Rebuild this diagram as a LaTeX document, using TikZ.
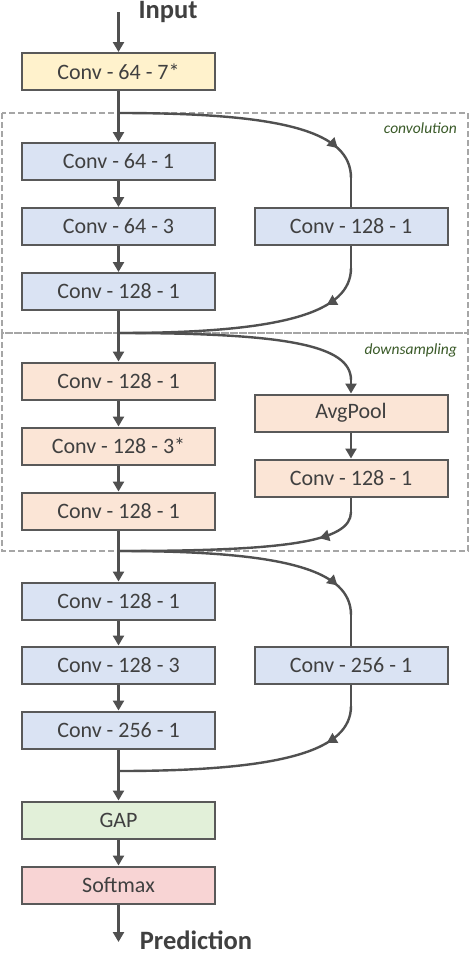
\documentclass[tikz,border=0pt]{standalone}
\usepackage{fontspec}
\setmainfont{Carlito}
\usetikzlibrary{arrows.meta,decorations.markings}
\definecolor{cyel}{HTML}{FFF2CC}
\definecolor{cblue}{HTML}{DAE3F3}
\definecolor{corg}{HTML}{FBE5D6}
\definecolor{cgrn}{HTML}{E2F0D9}
\definecolor{cred}{HTML}{F8D4D4}
\definecolor{cbord}{HTML}{595959}
\definecolor{carr}{HTML}{505050}
\definecolor{ctxt}{HTML}{404040}
\definecolor{cdash}{HTML}{A6A6A6}
\definecolor{clab}{HTML}{3A5A28}
\tikzset{
  blk/.style={draw=cbord, line width=2pt, minimum width=193pt, minimum height=37pt, inner sep=0pt,
    text=ctxt, font=\fontsize{22}{26}\selectfont},
  conn/.style={draw=carr, line width=2.4pt, -{Triangle[length=10pt,width=11pt]}},
  line/.style={draw=carr, line width=2.4pt},
  midarr/.style={postaction={decorate}, decoration={markings, mark=at position #1 with {\arrow{Triangle[length=10pt,width=11pt]}}}},
  grp/.style={draw=cdash, line width=1.5pt, dash pattern=on 6pt off 3pt},
  lab/.style={text=clab, font=\fontsize{15.5}{18}\selectfont\itshape, inner sep=0pt},
  ttl/.style={text=ctxt, font=\fontsize{26.5}{30}\selectfont\bfseries, inner sep=0pt}
}
\begin{document}
\begin{tikzpicture}[x=1pt,y=-1pt]
\useasboundingbox[fill=white] (0,0) rectangle (470,956);
% groups
\draw[grp] (2,113) rectangle (468,333);
\draw[grp] (2,333) rectangle (468,551);
\node[lab, anchor=base east] (lconv) at (457,133) {convolution};
\node[lab, anchor=base east] (ldown) at (457,354) {downsampling};
% nodes
\node[blk, fill=cyel] (c0) at (118.5,71.5) {Conv - 64 - 7*};
\node[blk, fill=cblue] (c1) at (118.5,161.5) {Conv - 64 - 1};
\node[blk, fill=cblue] (c2) at (118.5,226.5) {Conv - 64 - 3};
\node[blk, fill=cblue] (c3) at (118.5,291.5) {Conv - 128 - 1};
\node[blk, fill=cblue] (r1) at (351,226.5) {Conv - 128 - 1};
\node[blk, fill=corg] (c4) at (118.5,381) {Conv - 128 - 1};
\node[blk, fill=corg] (c5) at (118.5,446) {Conv - 128 - 3*};
\node[blk, fill=corg] (c6) at (118.5,511) {Conv - 128 - 1};
\node[blk, fill=corg] (a2) at (351,413) {AvgPool};
\node[blk, fill=corg] (r2) at (351,478) {Conv - 128 - 1};
\node[blk, fill=cblue] (c7) at (118.5,601) {Conv - 128 - 1};
\node[blk, fill=cblue] (c8) at (118.5,665) {Conv - 128 - 3};
\node[blk, fill=cblue] (c9) at (118.5,730) {Conv - 256 - 1};
\node[blk, fill=cblue] (r3) at (351,665) {Conv - 256 - 1};
\node[blk, fill=cgrn] (gap) at (118.5,820) {GAP};
\node[blk, fill=cred] (sm) at (118.5,885) {Softmax};
\node[ttl, anchor=base] (tin) at (168,18.5) {Input};
\node[ttl, anchor=base] (tout) at (196,949) {Prediction};
% coordinates
\coordinate (in) at (118.5,12);
\coordinate (out) at (118.5,942);
\coordinate (j1) at (118.5,113);
\coordinate (j2) at (118.5,333);
\coordinate (j3) at (118.5,551);
\coordinate (j4) at (118.5,771);
\coordinate (b1) at (351,178);
\coordinate (e1) at (351,268);
\coordinate (b2) at (351,380);
\coordinate (e2) at (351,512);
\coordinate (b3) at (351,615);
\coordinate (e3) at (351,706);
% main column
\draw[conn] (in) -- (c0);
\draw[conn] (c0) -- (c1);
\draw[conn] (c1) -- (c2);
\draw[conn] (c2) -- (c3);
\draw[conn] (c3) -- (c4);
\draw[conn] (c4) -- (c5);
\draw[conn] (c5) -- (c6);
\draw[conn] (c6) -- (c7);
\draw[conn] (c7) -- (c8);
\draw[conn] (c8) -- (c9);
\draw[conn] (c9) -- (gap);
\draw[conn] (gap) -- (sm);
\draw[conn] (sm) -- (out);
% block 1 shortcut
\draw[line, midarr=0.87] (j1) .. controls (285,113) and (351,132) .. (b1);
\draw[line] (b1) -- (r1.north);
\draw[line] (r1.south) -- (e1);
\draw[line, midarr=0.18] (e1) .. controls (351,312) and (285,333) .. (j2);
% block 2 shortcut
\draw[line] (j2) .. controls (285,333) and (351,345) .. (b2);
\draw[conn] (b2) -- (a2);
\draw[conn] (a2) -- (r2);
\draw[line] (r2.south) -- (e2);
\draw[line, midarr=0.18] (e2) .. controls (351,542) and (285,551) .. (j3);
% block 3 shortcut
\draw[line, midarr=0.87] (j3) .. controls (285,551) and (351,570) .. (b3);
\draw[line] (b3) -- (r3.north);
\draw[line] (r3.south) -- (e3);
\draw[line, midarr=0.18] (e3) .. controls (351,750) and (285,771) .. (j4);
\end{tikzpicture}
\end{document}
